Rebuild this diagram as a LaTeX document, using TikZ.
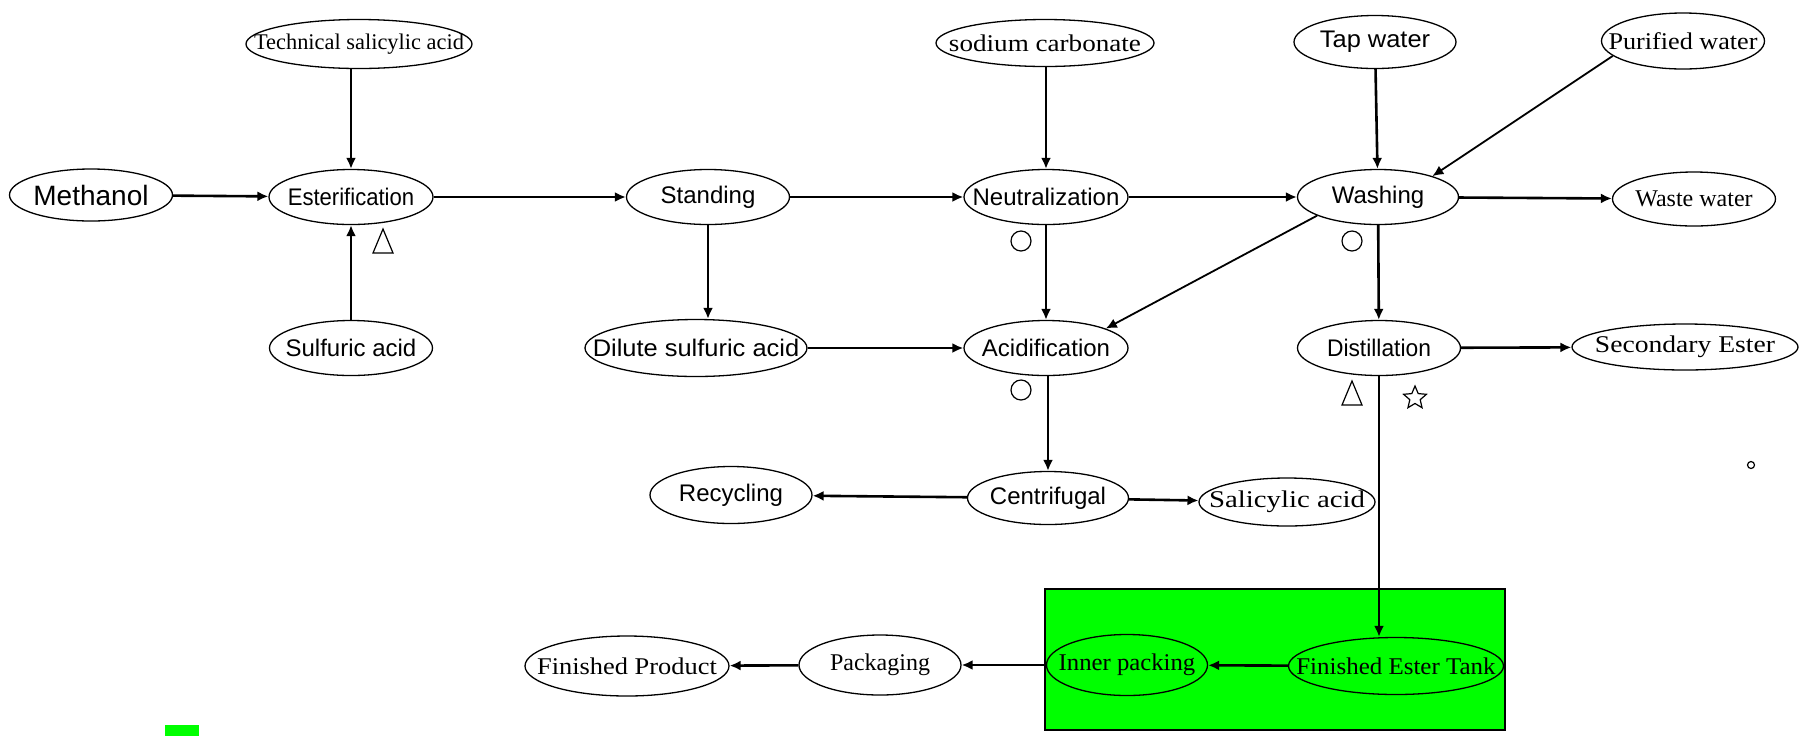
\documentclass[tikz,border=0pt]{standalone}
\usepackage{fontspec}
\usepackage{graphicx}
\setmainfont{Liberation Serif}
\newfontfamily\sansf{Liberation Sans}
\newfontfamily\serf{Liberation Serif}
\usetikzlibrary{shapes.geometric,arrows.meta}
\definecolor{pgreen}{RGB}{0,255,0}
\newcommand\tx[2][1]{\makebox[0pt]{\scalebox{#1}[1]{#2}}}
\begin{document}
\begin{tikzpicture}[x=0.5pt,y=-0.5pt,
 el/.style={ellipse,draw,line width=0.65pt,inner sep=0pt,minimum width=81.5pt,minimum height=27.5pt},
 sn/.style={el,font=\sansf\fontsize{12}{14}\selectfont},
 sr/.style={el,font=\serf\fontsize{12}{14}\selectfont},
 arr/.style={line width=1.3pt,-{Latex[length=5.5pt,width=5pt]}},
 darr/.style={line width=0.9pt,-{Latex[length=5.5pt,width=5pt]}},
 sym/.style={line width=0.6pt}]
\useasboundingbox (0,0) rectangle (1800,735);
\fill[white] (0,0) rectangle (1800,735);

% group box
\node[draw,fill=pgreen,line width=1.2pt,minimum width=230pt,minimum height=70.5pt,inner sep=0pt] (grp) at (1275,659.5) {};

% nodes
\node[sr,font=\serf\fontsize{11.2}{12}\selectfont,minimum width=113pt,minimum height=24.5pt] (tech) at (359,44) {\tx{Technical salicylic acid}};
\node[sn,font=\sansf\fontsize{14}{16}\selectfont,minimum height=26pt] (meth) at (91,195) {\tx{Methanol}};
\node[sn,minimum width=82pt] (ester) at (351,197) {\tx[0.92]{Esterification}};
\node[sn] (sulf) at (351,348) {\tx{Sulfuric acid}};
\node[sn] (stand) at (708,197) {\tx{Standing}};
\node[sn,minimum width=111pt,minimum height=28.5pt] (dil) at (696,348) {\tx[1.06]{Dilute sulfuric acid}};
\node[sr,minimum width=109pt,minimum height=23.5pt] (soda) at (1045,43) {\tx[1.13]{sodium carbonate}};
\node[sn,minimum width=82pt] (neut) at (1046,197) {\tx{Neutralization}};
\node[sn,minimum width=82pt] (acid) at (1046,348) {\tx{Acidification}};
\node[sn,minimum width=80.5pt,minimum height=26.5pt] (cent) at (1048,498) {\tx{Centrifugal}};
\node[sn,minimum width=81pt,minimum height=28.5pt] (recy) at (731,495) {\tx{Recycling}};
\node[sr,minimum width=88pt,minimum height=24pt] (salic) at (1287,502) {\tx[1.2]{Salicylic acid}};
\node[sn,minimum width=81pt,minimum height=26.5pt] (tap) at (1375,42) {\tx[1.06]{Tap water}};
\node[sr,minimum width=81.5pt,minimum height=28pt] (puri) at (1683,41) {\tx[1.09]{Purified water}};
\node[sn,minimum width=80.5pt] (wash) at (1378,197) {\tx{Washing}};
\node[sr,minimum width=81.5pt,minimum height=27pt] (waste) at (1694,199) {\tx{Waste water}};
\node[sn] (dist) at (1379,348) {\tx[0.95]{Distillation}};
\node[sr,minimum width=113pt,minimum height=23pt] (sec) at (1685,347) {\tx[1.15]{Secondary Ester}};
\node[sr,minimum width=107.5pt,minimum height=28.5pt] (fet) at (1396,666) {\tx[1.04]{Finished Ester Tank}};
\node[sr,minimum width=80.5pt,minimum height=30.5pt] (inner) at (1127,665) {\tx[1.03]{Inner packing}};
\node[sr,minimum width=81pt,minimum height=30pt] (pack) at (880,665) {\tx{Packaging}};
\node[sr,minimum width=102pt,minimum height=30pt] (fprod) at (627,666) {\tx[1.1]{Finished Product}};

% symbols
\coordinate (t1) at (383,241);
\coordinate (t2) at (1352,393);
\draw[sym] (t1) +(0,-12) -- +(-10,12) -- +(10,12) -- cycle;
\draw[sym] (t2) +(0,-12) -- +(-10,12) -- +(10,12) -- cycle;
\node[circle,draw,sym,minimum size=10pt,inner sep=0pt] (c1) at (1021,241) {};
\node[circle,draw,sym,minimum size=10pt,inner sep=0pt] (c2) at (1021,390) {};
\node[circle,draw,sym,minimum size=10pt,inner sep=0pt] (c3) at (1352,241) {};
\node[star,star points=5,star point ratio=2.2,draw,sym,minimum size=12pt,inner sep=0pt] (st) at (1415,398) {};
\node[circle,draw,line width=0.6pt,minimum size=3.5pt,inner sep=0pt] (dot) at (1751,465) {};
\fill[pgreen] (165,725) rectangle (199,745);

% edges
\draw[arr] (ester.north |- tech.south) -- (ester.north);
\draw[arr] (meth) -- (ester);
\draw[arr] (sulf) -- (ester);
\draw[arr] (ester) -- (stand);
\draw[arr] (stand) -- (neut);
\draw[arr] (stand.south) -- (stand.south |- dil.north);
\draw[arr] (dil) -- (acid);
\draw[arr] (soda.south -| neut.north) -- (neut.north);
\draw[arr] (neut) -- (acid);
\draw[arr] (neut) -- (wash);
\draw[darr] (wash.197) -- (acid.18);
\draw[arr] (tap) -- (wash);
\draw[darr] (puri.192) -- (wash.21);
\draw[arr] (wash) -- (waste);
\draw[arr] (wash) -- (dist);
\draw[arr] (dist) -- (sec);
\draw[arr] (acid.south -| cent.north) -- (cent.north);
\draw[arr] (cent) -- (recy);
\draw[arr] (cent) -- (salic);
\draw[arr] (dist.south) -- (dist.south |- fet.north);
\draw[arr] (fet) -- (inner);
\draw[arr] (inner) -- (pack);
\draw[arr] (pack) -- (fprod);
\end{tikzpicture}
\end{document}
